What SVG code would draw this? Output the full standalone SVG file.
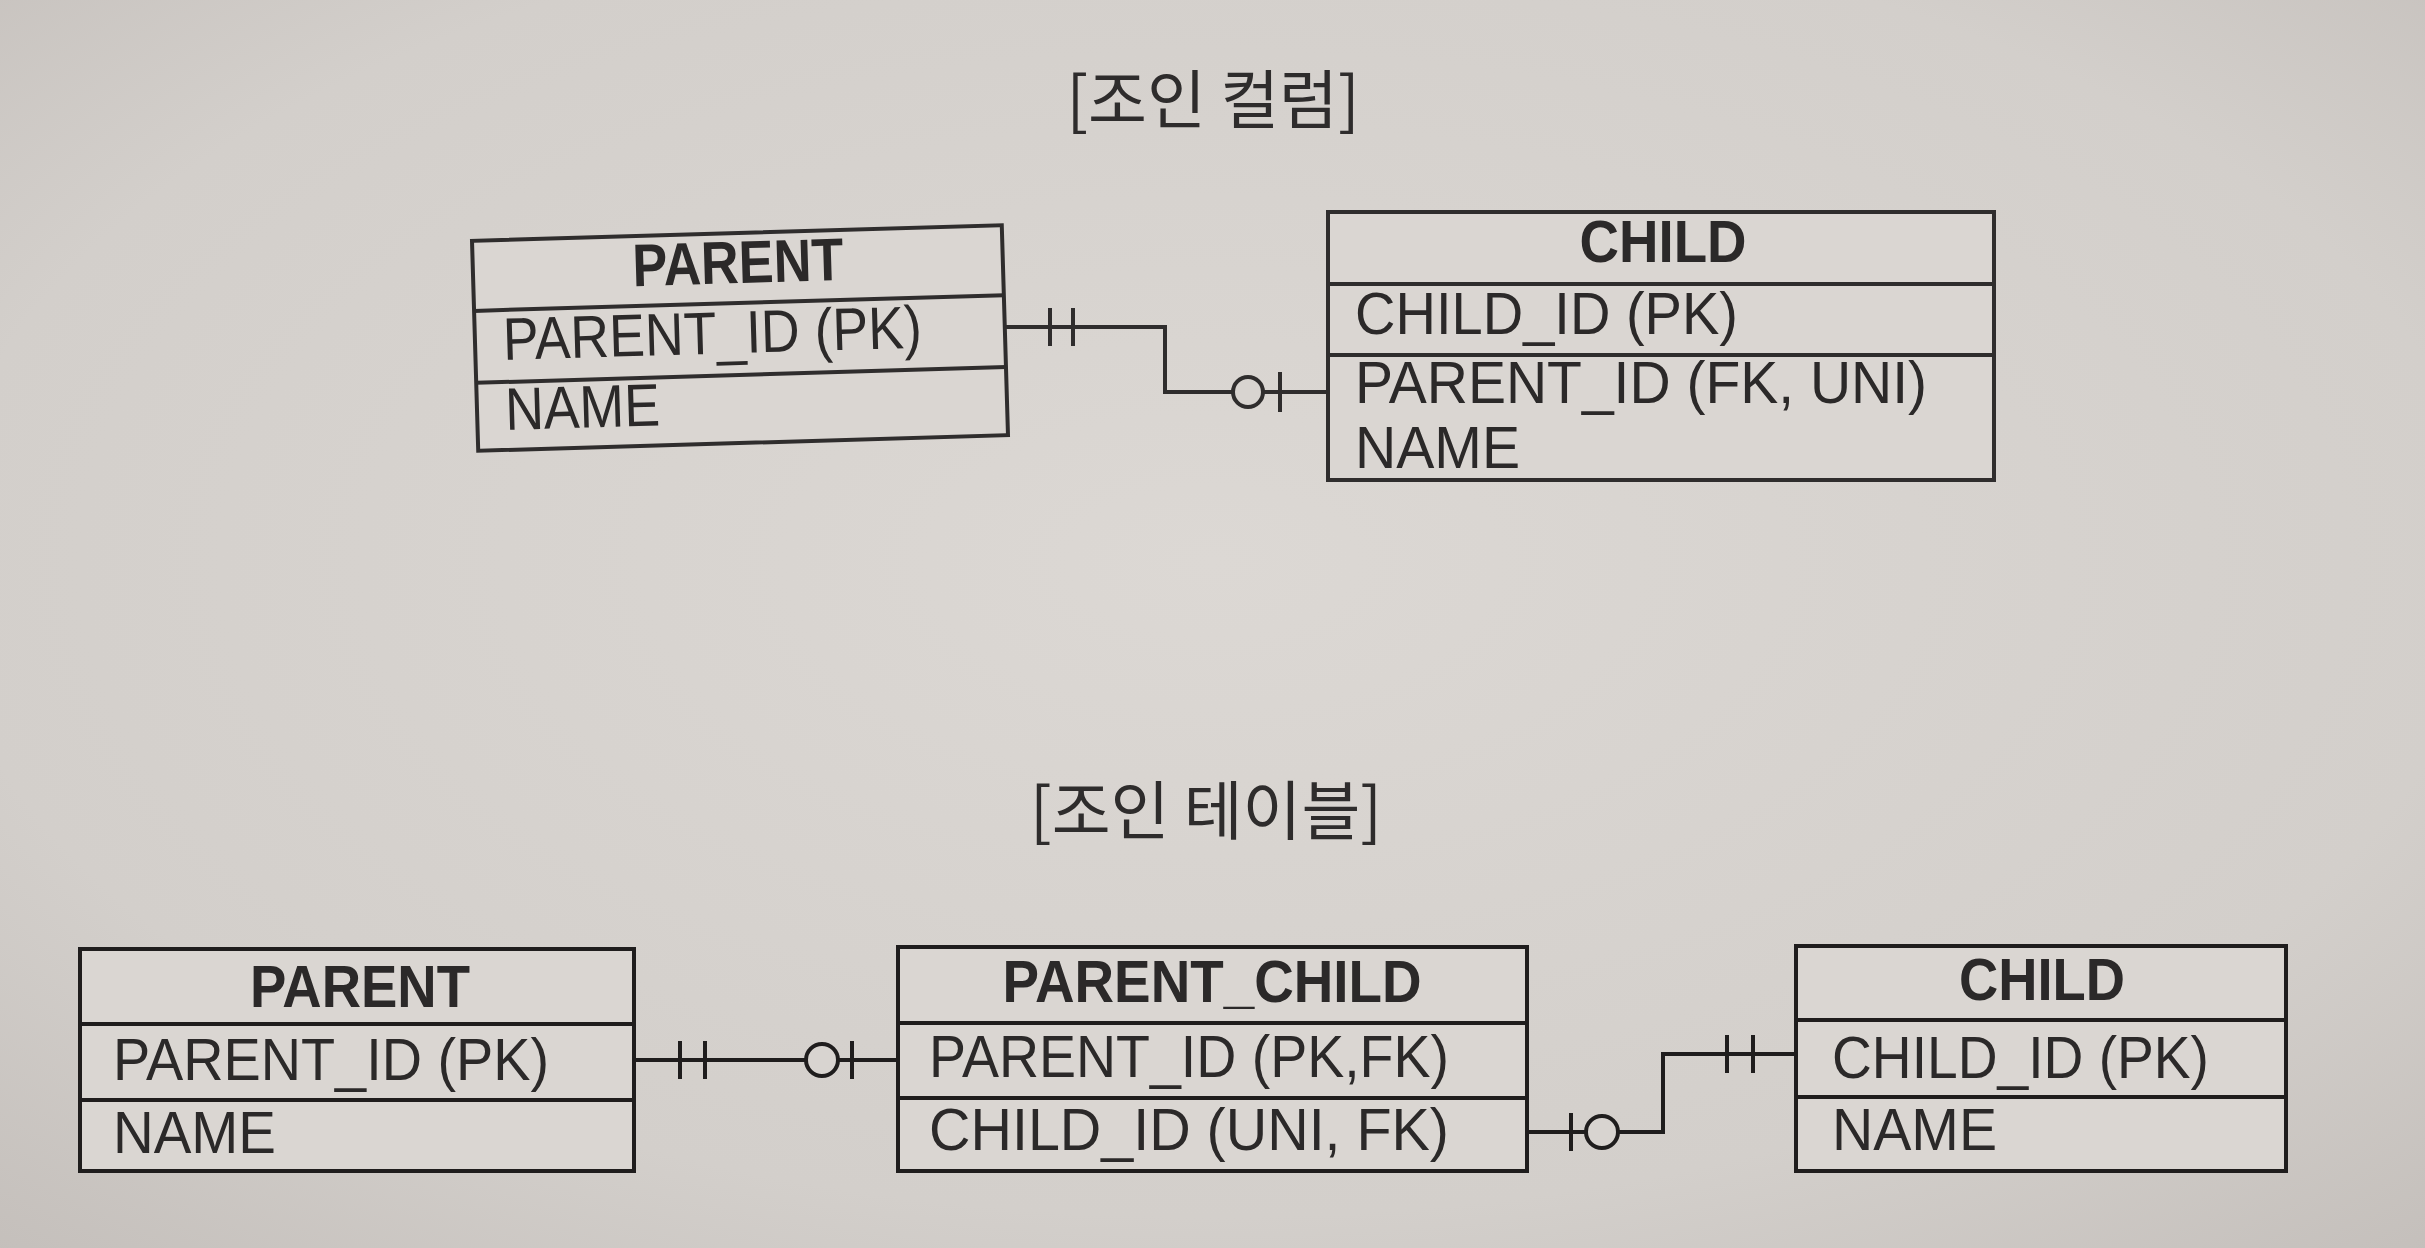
<svg xmlns="http://www.w3.org/2000/svg" width="2425" height="1248" viewBox="0 0 2425 1248">
<defs>
<radialGradient id="bg" cx="0.5" cy="0.45" r="0.75">
<stop offset="0" stop-color="#dcd8d4"/>
<stop offset="0.7" stop-color="#d3cfcb"/>
<stop offset="1" stop-color="#c4bfbb"/>
</radialGradient>
<style>
.box{fill:#dad6d2;stroke:#2f2d2d;stroke-width:4}
.div{stroke:#2f2d2d;stroke-width:4}
.t{font-family:"Liberation Sans",Arial,sans-serif;font-size:60px;fill:#2b2929}
.h{font-family:"Liberation Sans",Arial,sans-serif;font-size:60px;font-weight:bold;fill:#2b2929;text-anchor:middle}
.title{font-family:"Noto Sans CJK KR","Noto Sans",sans-serif;font-size:64px;fill:#2e2c2c;text-anchor:middle}
.ln{fill:none;stroke:#2f2d2d;stroke-width:4}
.circ{fill:#d8d4d0;stroke:#2f2d2d;stroke-width:4}
.bot .box,.bot .div{stroke:#1f1d1d}
</style>
</defs>
<rect x="0" y="0" width="2425" height="1248" fill="url(#bg)"/>

<text class="title" x="1213" y="123">[조인 컬럼]</text>
<text class="title" x="1206" y="834">[조인 테이블]</text>

<g id="top-parent" transform="rotate(-1.7 740 338)">
<rect class="box" x="475" y="233" width="530" height="210"/>
<line class="div" x1="475" y1="303" x2="1005" y2="303"/>
<line class="div" x1="475" y1="375" x2="1005" y2="375"/>
<text class="h" x="740" y="283" textLength="211" lengthAdjust="spacingAndGlyphs">PARENT</text>
<text class="t" x="503" y="353" textLength="419" lengthAdjust="spacingAndGlyphs">PARENT_ID (PK)</text>
<text class="t" x="503" y="423" textLength="155" lengthAdjust="spacingAndGlyphs">NAME</text>
</g>

<g id="top-child">
<rect class="box" x="1328" y="212" width="666" height="268"/>
<line class="div" x1="1328" y1="284" x2="1994" y2="284"/>
<line class="div" x1="1328" y1="355" x2="1994" y2="355"/>
<text class="h" x="1663" y="262" textLength="167" lengthAdjust="spacingAndGlyphs">CHILD</text>
<text class="t" x="1355" y="334" textLength="383" lengthAdjust="spacingAndGlyphs">CHILD_ID (PK)</text>
<text class="t" x="1355" y="403" textLength="572" lengthAdjust="spacingAndGlyphs">PARENT_ID (FK, UNI)</text>
<text class="t" x="1355" y="468" textLength="165" lengthAdjust="spacingAndGlyphs">NAME</text>
</g>

<g class="bot">
<g id="bottom-parent">
<rect class="box" x="80" y="949" width="554" height="222"/>
<line class="div" x1="80" y1="1024" x2="634" y2="1024"/>
<line class="div" x1="80" y1="1100" x2="634" y2="1100"/>
<text class="h" x="360" y="1007" textLength="220" lengthAdjust="spacingAndGlyphs">PARENT</text>
<text class="t" x="113" y="1080" textLength="436" lengthAdjust="spacingAndGlyphs">PARENT_ID (PK)</text>
<text class="t" x="113" y="1153" textLength="163" lengthAdjust="spacingAndGlyphs">NAME</text>
</g>

<g id="parent-child">
<rect class="box" x="898" y="947" width="629" height="224"/>
<line class="div" x1="898" y1="1023" x2="1527" y2="1023"/>
<line class="div" x1="898" y1="1098" x2="1527" y2="1098"/>
<text class="h" x="1212" y="1002" textLength="419" lengthAdjust="spacingAndGlyphs">PARENT_CHILD</text>
<text class="t" x="929" y="1077" textLength="520" lengthAdjust="spacingAndGlyphs">PARENT_ID (PK,FK)</text>
<text class="t" x="929" y="1150" textLength="520" lengthAdjust="spacingAndGlyphs">CHILD_ID (UNI, FK)</text>
</g>

<g id="bottom-child">
<rect class="box" x="1796" y="946" width="490" height="225"/>
<line class="div" x1="1796" y1="1020" x2="2286" y2="1020"/>
<line class="div" x1="1796" y1="1097" x2="2286" y2="1097"/>
<text class="h" x="2042" y="1000" textLength="166" lengthAdjust="spacingAndGlyphs">CHILD</text>
<text class="t" x="1832" y="1078" textLength="377" lengthAdjust="spacingAndGlyphs">CHILD_ID (PK)</text>
<text class="t" x="1832" y="1150" textLength="165" lengthAdjust="spacingAndGlyphs">NAME</text>
</g>
</g>

<g id="connectors">
<path class="ln" d="M1003,327 H1165 V392 H1328"/>
<line class="ln" x1="1050" y1="308" x2="1050" y2="346"/>
<line class="ln" x1="1073" y1="308" x2="1073" y2="346"/>
<circle class="circ" cx="1248" cy="392" r="15"/>
<line class="ln" x1="1280" y1="372" x2="1280" y2="412"/>

<path class="ln" d="M634,1060 H898" style="stroke:#1f1d1d"/>
<line class="ln" x1="680" y1="1041" x2="680" y2="1079" style="stroke:#1f1d1d"/>
<line class="ln" x1="705" y1="1041" x2="705" y2="1079" style="stroke:#1f1d1d"/>
<circle class="circ" cx="822" cy="1060" r="16" style="stroke:#1f1d1d"/>
<line class="ln" x1="852" y1="1041" x2="852" y2="1079" style="stroke:#1f1d1d"/>

<path class="ln" d="M1527,1132 H1663 V1054 H1796" style="stroke:#1f1d1d"/>
<line class="ln" x1="1571" y1="1113" x2="1571" y2="1151" style="stroke:#1f1d1d"/>
<circle class="circ" cx="1602" cy="1132" r="16" style="stroke:#1f1d1d"/>
<line class="ln" x1="1727" y1="1035" x2="1727" y2="1073" style="stroke:#1f1d1d"/>
<line class="ln" x1="1753" y1="1035" x2="1753" y2="1073" style="stroke:#1f1d1d"/>
</g>
</svg>
